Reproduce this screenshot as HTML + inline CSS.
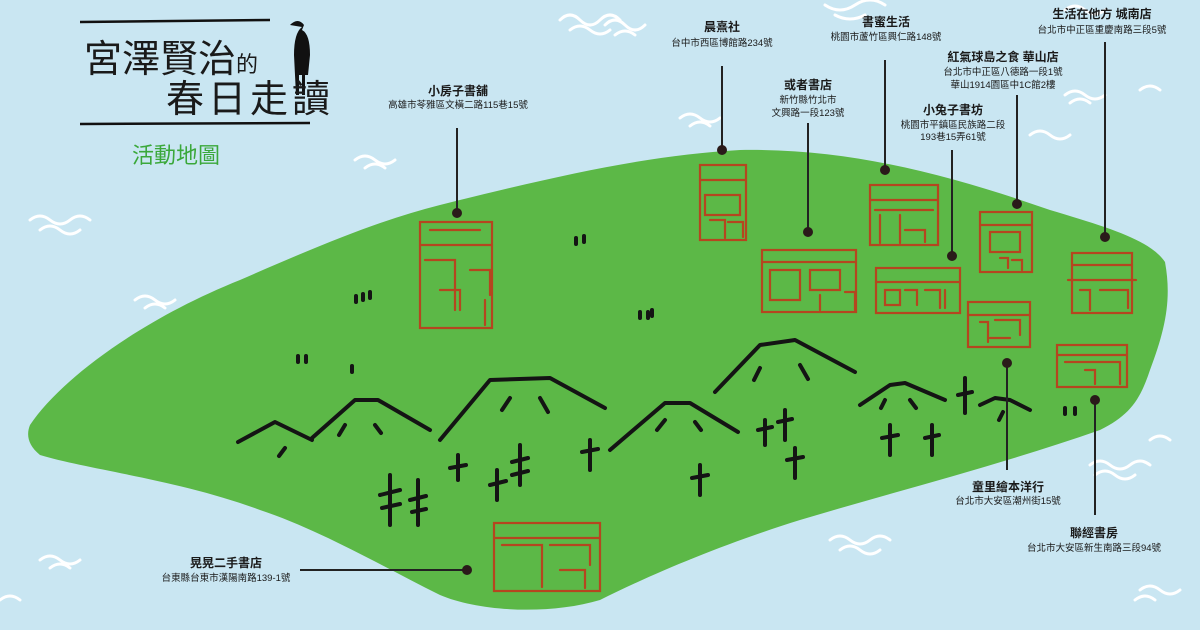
<!DOCTYPE html>
<html><head><meta charset="utf-8"><style>
body{margin:0;width:1200px;height:630px;overflow:hidden;background:#c9e6f2;font-family:"Liberation Sans","Noto Sans CJK TC",sans-serif}
svg{position:absolute;left:0;top:0}
</style></head><body>
<svg width="1200" height="630" viewBox="0 0 1200 630" xmlns="http://www.w3.org/2000/svg">
<rect width="1200" height="630" fill="#c9e6f2"/>
<g fill="none" stroke="#fff" stroke-width="3" stroke-linecap="round">
<path d="M560 20q10-10 20 0t20 0 20 0M570 30q10-8 20 0t20 0"/>
<path d="M605 25q10-10 20 0t20 0M615 35q10-8 20 0"/>
<path d="M825 5q15 10 30 0t30 0M835 15q15 8 30 0"/>
<path d="M1065 10q10-8 20 0t20 0"/>
<path d="M1065 95q10-8 20 0t20 0M1070 103q10-8 20 0"/>
<path d="M1140 90q10-8 20 0"/>
<path d="M680 118q10-8 20 0t20 0M690 126q10-8 20 0"/>
<path d="M355 160q10-8 20 0t20 0M365 168q10-8 20 0"/>
<path d="M30 220q10-8 20 0t20 0t20 0M40 230q10-8 20 0t20 0"/>
<path d="M135 300q10-8 20 0t20 0M145 308q10-8 20 0"/>
<path d="M1030 135q10-8 20 0t20 0"/>
<path d="M1090 465q10-8 20 0t20 0t20 0M1095 475q10-8 20 0t20 0"/>
<path d="M1150 440q10-8 20 0"/>
<path d="M830 540q10-8 20 0t20 0t20 0M840 550q10-8 20 0t20 0"/>
<path d="M660 550q10-8 20 0t20 0M670 558q10-8 20 0"/>
<path d="M1140 590q10-8 20 0t20 0M1135 600q10-8 20 0"/>
<path d="M40 560q10-8 20 0t20 0M50 568q10-8 20 0"/>
<path d="M0 600q10-8 20 0"/>
</g>
<path d="M30 425 C60 380 140 320 240 280 C320 245 380 220 440 205 C560 175 650 155 740 150 C850 148 950 175 1050 210 C1110 228 1150 240 1165 262 C1172 300 1165 330 1150 370 C1140 400 1130 415 1100 430 C1000 465 900 490 800 520 C720 545 650 575 600 600 C550 615 480 612 440 595 C380 565 320 530 260 510 C180 480 90 470 40 455 C28 445 26 435 30 425Z" fill="#5cb847"/>
<g fill="none" stroke="#b5461f" stroke-width="2.2" stroke-linecap="round">
<rect x="420" y="222" width="72" height="106"/><path d="M420 245h72M430 230h50M425 260h30v50M470 270h20v25M440 290h20v20M485 300v25"/>
<rect x="700" y="165" width="46" height="75"/><path d="M700 180h46M705 195h35v20h-35zM710 220h15v18M728 222h15v15"/>
<rect x="762" y="250" width="94" height="62"/><path d="M762 262h94M770 270h30v30h-30zM810 270h30v20h-30zM820 295v15M845 292h10v18"/>
<rect x="870" y="185" width="68" height="60"/><path d="M870 200h68M875 210h58M880 215v28M900 215v28M905 230h20v12"/>
<rect x="876" y="268" width="84" height="45"/><path d="M876 282h84M885 290h15v15h-15zM905 290h12v15M925 290h15v18M945 290v18"/>
<rect x="980" y="212" width="52" height="60"/><path d="M980 225h52M990 232h30v20h-30zM1000 258h8v10M1012 260h10v10"/>
<rect x="968" y="302" width="62" height="45"/><path d="M968 315h62M980 322h8v20M995 320h25v15M990 338h20"/>
<rect x="1072" y="253" width="60" height="60"/><path d="M1072 265h60M1068 280h68M1080 290h10v20M1100 290h28v18"/>
<rect x="1057" y="345" width="70" height="42"/><path d="M1057 355h70M1065 362h55v22M1085 370h10v14"/>
<rect x="494" y="523" width="106" height="68"/><path d="M494 538h106M502 545h40v42M550 545h40v20M560 570h25v18"/>
</g>
<g fill="none" stroke="#141414" stroke-width="4" stroke-linecap="round" stroke-linejoin="round">
<path d="M238 442 L275 422 L312 440"/><path d="M312 438 L355 400 L378 400 L430 430"/>
<path d="M440 440 L490 380 L550 378 L605 408"/><path d="M610 450 L665 403 L690 403 L738 432"/>
<path d="M715 392 L760 345 L795 340 L855 372"/><path d="M860 405 L890 385 L905 383 L945 400"/>
<path d="M980 405 L995 398 L1010 400 L1030 410"/>
<path d="M285 448 l-6 8M345 425 l-6 10M375 425 l6 8M510 398 l-8 12M540 398 l8 14M665 420 l-8 10M695 422 l6 8M760 368 l-6 12M800 365 l8 14M885 400 l-4 8M910 400 l6 8M1003 412 l-4 8"/>
<path d="M390 475v50M380 495l20-5M382 508l18-4M418 480v45M410 500l16-4M412 512l14-3M458 455v25M450 468l16-3M497 470v30M490 485l16-4M520 445v40M512 462l16-4M512 475l16-4M590 440v30M582 452l16-3M700 465v30M692 478l16-3M765 420v25M758 430l14-3M785 410v30M778 422l14-3M795 448v30M787 460l16-3M890 425v30M882 438l16-3M932 425v30M925 438l14-3M965 378v35M958 395l14-3"/>
<path d="M576 238v6M584 236v6M356 296v6M363 294v6M370 292v6M640 312v6M648 312v6M652 310v6M298 356v6M306 356v6M352 366v6M1065 408v6M1075 408v6"/>
</g>
<g stroke="#222" stroke-width="2">
<line x1="457" y1="128" x2="457" y2="213"/><line x1="722" y1="66" x2="722" y2="150"/>
<line x1="808" y1="123" x2="808" y2="232"/><line x1="885" y1="60" x2="885" y2="170"/>
<line x1="952" y1="150" x2="952" y2="256"/><line x1="1017" y1="95" x2="1017" y2="204"/>
<line x1="1105" y1="42" x2="1105" y2="237"/><line x1="1007" y1="363" x2="1007" y2="470"/>
<line x1="1095" y1="400" x2="1095" y2="515"/><line x1="300" y1="570" x2="467" y2="570"/>
</g>
<g fill="#2a1a1a">
<circle cx="457" cy="213" r="5"/><circle cx="722" cy="150" r="5"/><circle cx="808" cy="232" r="5"/><circle cx="885" cy="170" r="5"/><circle cx="952" cy="256" r="5"/><circle cx="1017" cy="204" r="5"/><circle cx="1105" cy="237" r="5"/><circle cx="1007" cy="363" r="5"/><circle cx="1095" cy="400" r="5"/><circle cx="467" cy="570" r="5"/>
</g>
<g stroke="#111" stroke-width="2.5"><line x1="80" y1="22" x2="270" y2="20"/><line x1="80" y1="124" x2="310" y2="123"/></g>
<path d="M290 25 q8-8 14 0 l-2 5 q8 4 8 25 l-2 20 l-3 0 v20 h-3 v-20 h-3 v20 h-3 l-2-40 q0-22 8-28z" fill="#111"/>
<g font-family="'Liberation Sans','Noto Sans CJK TC',sans-serif" fill="#1a1a1a">
<text x="84" y="72" font-size="38">宮澤賢治<tspan font-size="22">的</tspan></text>
<text x="166" y="112" font-size="38" letter-spacing="4">春日走讀</text>
<text x="132" y="163" font-size="22" fill="#3aa83a">活動地圖</text>
<g text-anchor="middle" font-size="9.5">
<text x="458" y="95" font-size="12" font-weight="bold">小房子書舖</text><text x="458" y="108">高雄市苓雅區文橫二路115巷15號</text>
<text x="722" y="31" font-size="12" font-weight="bold">晨熹社</text><text x="722" y="46">台中市西區博館路234號</text>
<text x="886" y="26" font-size="12" font-weight="bold">書蜜生活</text><text x="886" y="40">桃園市蘆竹區興仁路148號</text>
<text x="1102" y="18" font-size="12" font-weight="bold">生活在他方 城南店</text><text x="1102" y="33">台北市中正區重慶南路三段5號</text>
<text x="1003" y="61" font-size="12" font-weight="bold">紅氣球島之食 華山店</text><text x="1003" y="75">台北市中正區八德路一段1號</text><text x="1003" y="88">華山1914園區中1C館2樓</text>
<text x="808" y="89" font-size="12" font-weight="bold">或者書店</text><text x="808" y="103">新竹縣竹北市</text><text x="808" y="116">文興路一段123號</text>
<text x="953" y="114" font-size="12" font-weight="bold">小兔子書坊</text><text x="953" y="128">桃園市平鎮區民族路二段</text><text x="953" y="140">193巷15弄61號</text>
<text x="1008" y="491" font-size="12" font-weight="bold">童里繪本洋行</text><text x="1008" y="504">台北市大安區潮州街15號</text>
<text x="1094" y="537" font-size="12" font-weight="bold">聯經書房</text><text x="1094" y="551">台北市大安區新生南路三段94號</text>
<text x="226" y="567" font-size="12" font-weight="bold">晃晃二手書店</text><text x="226" y="581">台東縣台東市漢陽南路139-1號</text>
</g></g>
</svg>
</body></html>
